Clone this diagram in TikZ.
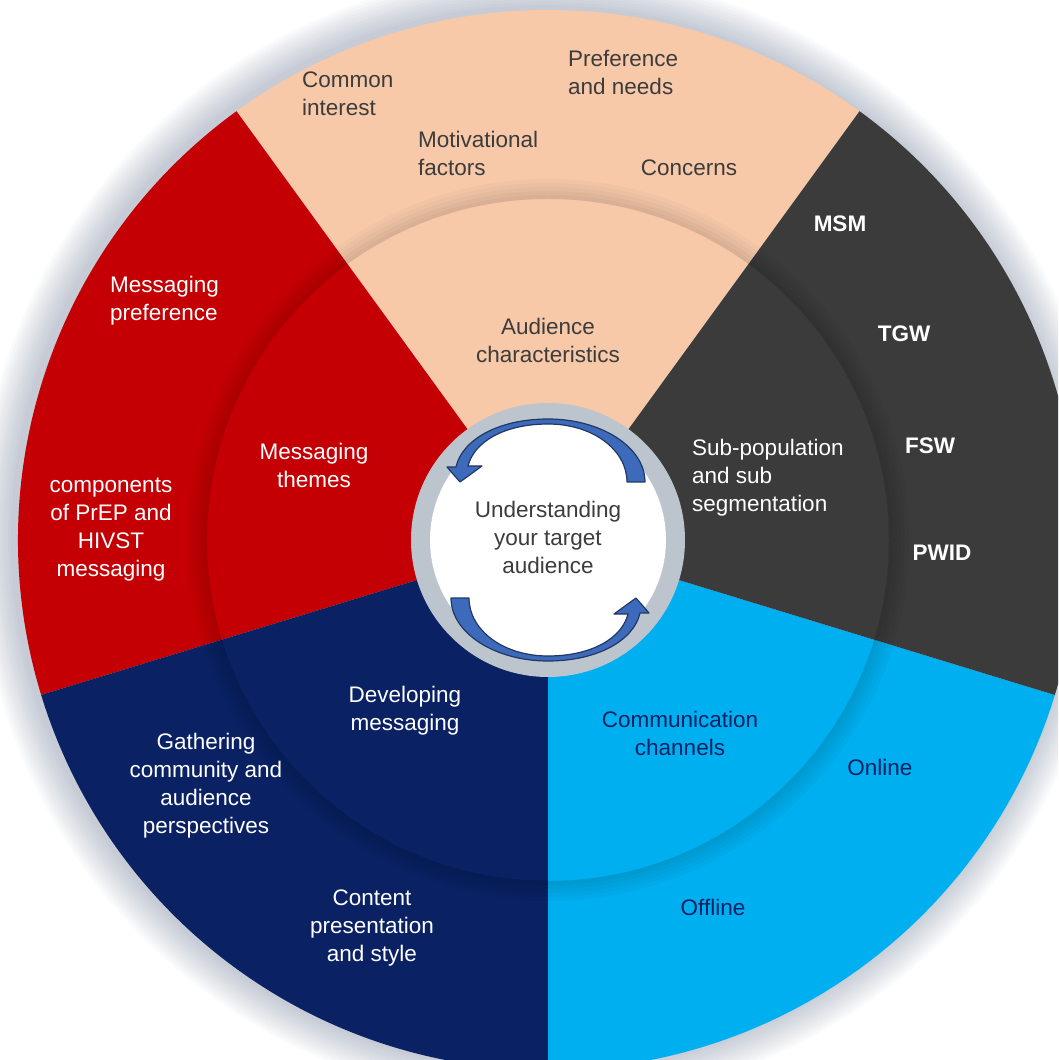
\documentclass[tikz,border=0pt]{standalone}
\usepackage{fontspec}
\setmainfont{Liberation Sans}

\definecolor{peach}{RGB}{247,201,169}
\definecolor{wheelred}{RGB}{196,0,4}
\definecolor{navy}{RGB}{10,33,100}
\definecolor{sky}{RGB}{0,175,239}
\definecolor{charcoal}{RGB}{59,59,59}
\definecolor{haze}{RGB}{90,110,140}
\definecolor{ringgrey}{RGB}{188,197,205}
\definecolor{txtgrey}{RGB}{60,60,60}
\definecolor{arrowblue}{RGB}{62,106,188}
\definecolor{arrowedge}{RGB}{32,56,100}

\begin{document}
\begin{tikzpicture}[
    x=1pt, y=1pt,
    every node/.style={align=center, inner sep=0pt, font=\fontsize{22.5}{28}\selectfont},
    onpeach/.style={text=txtgrey},
    ondark/.style={text=white},
    onsky/.style={text=navy},
    leftcol/.style={align=left, anchor=west},
    looparrow/.style={fill=arrowblue, draw=arrowedge, line width=1.2pt, line join=round}
]
\useasboundingbox (-548,-520) rectangle (510,540);
\clip (-548,-520) rectangle (510,540);
\fill[white] (-548,-520) rectangle (510,540);

% soft halo round the wheel
\foreach \i in {1,...,12}
  \fill[haze, opacity=0.03] (-4,2) circle (530+3*\i);

% the five wedges
\foreach \a/\b/\c in {54/126/peach, 126/197/wheelred, 197/270/navy, 270/343/sky, 343/414/charcoal}
  \fill[\c] (0,0) -- (\a:530) arc[start angle=\a, end angle=\b, radius=530] -- cycle;

% shadow between inner and outer ring
\foreach \w in {4,8,12,16,20}
  \draw[black, opacity=0.025, line width=\w pt] (0,0) circle (341+\w/2);

% hub
\fill[ringgrey] (0,0) circle (137);
\fill[white] (0,0) circle (118);

\draw[looparrow] (79,58) -- (97,58) .. controls (97,93) and (53,121) .. (0,121)
  .. controls (-50,121) and (-86,100) .. (-92,73) -- (-101,73) -- (-88,58) -- (-66,74) -- (-80,74)
  .. controls (-74,98) and (-44,116) .. (0,116) .. controls (45,116) and (79,90) .. (79,58) -- cycle;
\begin{scope}[rotate=180]
\draw[looparrow] (79,58) -- (97,58) .. controls (97,93) and (53,121) .. (0,121)
  .. controls (-50,121) and (-86,100) .. (-92,73) -- (-101,73) -- (-88,58) -- (-66,74) -- (-80,74)
  .. controls (-74,98) and (-44,116) .. (0,116) .. controls (45,116) and (79,90) .. (79,58) -- cycle;
\end{scope}

\node[text=txtgrey] (hub) at (0,3) {Understanding\\your target\\audience};

% audience characteristics
\node[onpeach] (audience) at (0,200) {Audience\\characteristics};
\node[onpeach, leftcol] (common) at (-246,446) {Common\\interest};
\node[onpeach, leftcol] (prefs) at (20,468) {Preference\\and needs};
\node[onpeach, leftcol] (motiv) at (-130,387) {Motivational\\factors};
\node[onpeach] (concerns) at (141,372) {Concerns};

% messaging themes
\node[ondark] (themes) at (-234,75) {Messaging\\themes};
\node[ondark, leftcol] (msgpref) at (-438,239) {Messaging\\preference};
\node[ondark] (components) at (-437,10) {components\\of PrEP and\\HIVST\\messaging};

% sub-populations
\node[ondark, leftcol] (subpop) at (144,62) {Sub-population\\and sub\\segmentation};
\node[ondark, font=\fontsize{22.5}{28}\bfseries] (msm) at (292,316) {MSM};
\node[ondark, font=\fontsize{22.5}{28}\bfseries] (tgw) at (356,206) {TGW};
\node[ondark, font=\fontsize{22.5}{28}\bfseries] (fsw) at (382,94) {FSW};
\node[ondark, font=\fontsize{22.5}{28}\bfseries] (pwid) at (394,-13) {PWID};

% developing messaging
\node[ondark] (developing) at (-143,-171) {Developing\\messaging};
\node[ondark] (gathering) at (-342,-246) {Gathering\\community and\\audience\\perspectives};
\node[ondark] (content) at (-176,-388) {Content\\presentation\\and style};

% channels
\node[onsky] (channels) at (132,-193) {Communication\\channels};
\node[onsky] (online) at (332,-227) {Online};
\node[onsky] (offline) at (165,-367) {Offline};
\end{tikzpicture}
\end{document}
